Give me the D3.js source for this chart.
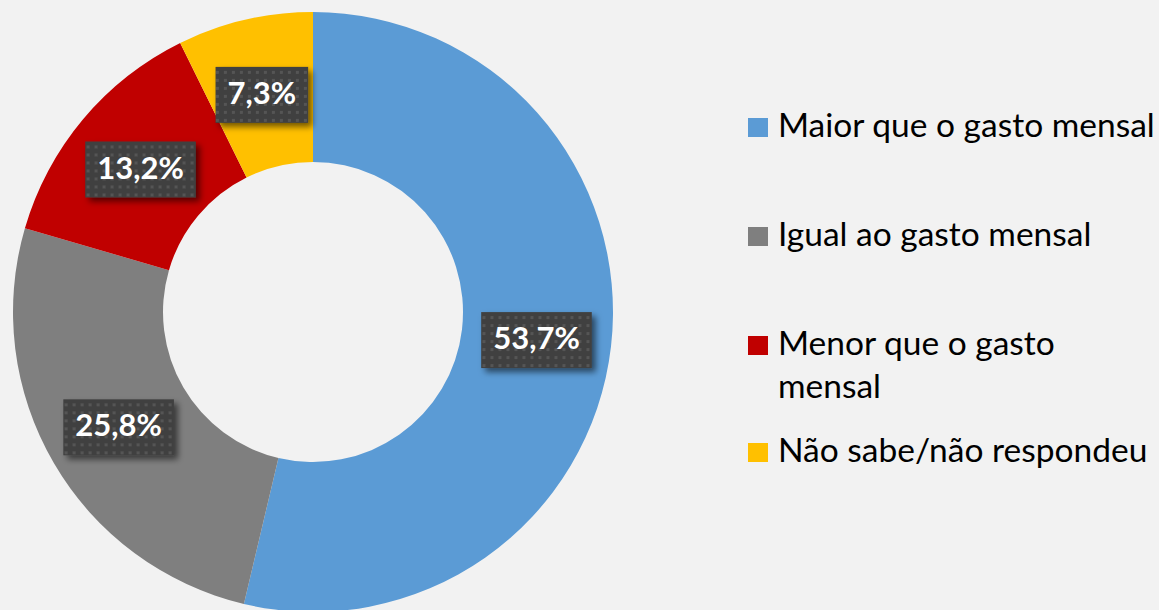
<!DOCTYPE html>
<html><head><meta charset="utf-8">
<script src="https://cdn.jsdelivr.net/npm/d3@7"></script>
<style>
html,body{margin:0;padding:0;background:#f2f2f2;}
svg{display:block;}
</style></head>
<body>
<svg id="chart" width="1159" height="610"></svg>
<script>
const categories = ["Maior que o gasto mensal", "Igual ao gasto mensal", "Menor que o gasto mensal", "Não sabe/não respondeu"];
const legendLines = [["Maior que o gasto mensal"], ["Igual ao gasto mensal"], ["Menor que o gasto", "mensal"], ["Não sabe/não respondeu"]];
const values = [53.7, 25.8, 13.2, 7.3];
const labels = ["53,7%", "25,8%", "13,2%", "7,3%"];
const colors = ["#5B9BD5", "#7F7F7F", "#C00000", "#FFC000"];

const W = 1159, H = 610;
const cx = 313, cy = 312, R = 300, r = 150;
const svg = d3.select("#chart");
svg.append("rect").attr("width", W).attr("height", H).attr("fill", "#f2f2f2");

const defs = svg.append("defs");
const pat = defs.append("pattern").attr("id", "dots").attr("patternUnits", "userSpaceOnUse")
  .attr("width", 8).attr("height", 8);
pat.append("rect").attr("width", 8).attr("height", 8).attr("fill", "#404040");
pat.append("rect").attr("x", 2).attr("y", 2).attr("width", 3).attr("height", 3).attr("fill", "#555555");
const filt = defs.append("filter").attr("id", "shadow").attr("x", "-20%").attr("y", "-30%").attr("width", "150%").attr("height", "170%");
filt.append("feDropShadow").attr("dx", 4).attr("dy", 4).attr("stdDeviation", 3)
  .attr("flood-color", "#000").attr("flood-opacity", 0.55);

const pie = d3.pie().sort(null).value(d => d)(values);
const arc = d3.arc().innerRadius(r).outerRadius(R);
const g = svg.append("g").attr("transform", `translate(${cx},${cy})`);
g.selectAll("path.slice").data(pie).join("path").attr("class", "slice")
  .attr("d", arc).attr("fill", (d, i) => colors[i]);

const lg = g.selectAll("g.lab").data(pie).join("g").attr("class", "lab")
  .attr("transform", d => `translate(${arc.centroid(d)})`);
lg.each(function(d, i) {
  const sel = d3.select(this);
  const rect = sel.append("rect").attr("fill", "url(#dots)").attr("filter", "url(#shadow)");
  const t = sel.append("text").text(labels[i])
    .attr("text-anchor", "middle").attr("dy", "0.36em")
    .attr("font-family", "Lato, 'Open Sans', sans-serif").attr("font-weight", "bold")
    .attr("font-size", 31).attr("fill", "#fff");
  const w = t.node().getComputedTextLength() + 24;
  const h = 56;
  rect.attr("x", -w / 2).attr("y", -h / 2 + 2).attr("width", w).attr("height", h);
});

const legend = svg.append("g").attr("transform", "translate(748,0)");
const baselines = [137, 246, 355, 462];
legendLines.forEach((lines, i) => {
  const y = baselines[i];
  legend.append("rect").attr("x", 0).attr("y", y - 19).attr("width", 20).attr("height", 19).attr("fill", colors[i]);
  const t = legend.append("text").attr("x", 30).attr("y", y)
    .attr("font-family", "Lato, 'Open Sans', sans-serif").attr("font-size", 33.5).attr("fill", "#000");
  lines.forEach((ln, j) => {
    t.append("tspan").attr("x", 30).attr("y", y + j * 43).text(ln);
  });
});
</script>
</body></html>
